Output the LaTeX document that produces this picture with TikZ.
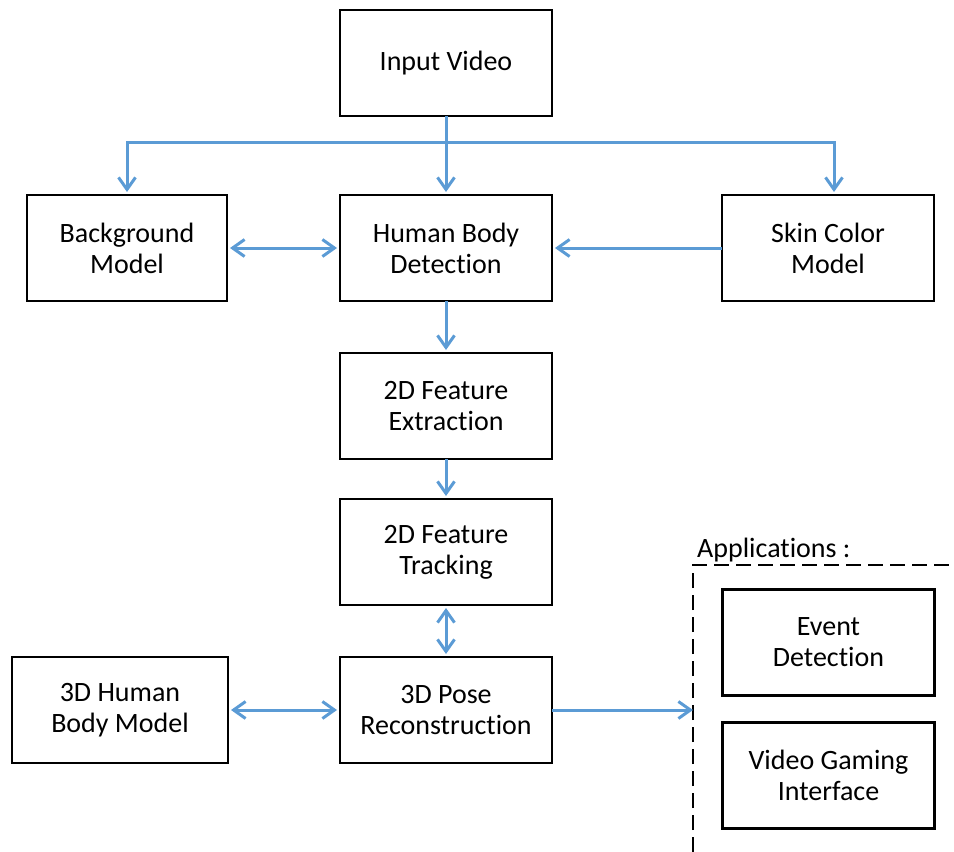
\documentclass[tikz,border=0pt]{standalone}
\usepackage{fontspec}
\setmainfont[Ligatures=NoCommon]{Carlito}
\usetikzlibrary{arrows.meta, positioning, calc}
\definecolor{link}{HTML}{5B9BD5}
\tikzset{
  box/.style={draw=black, line width=2.2pt, align=center, minimum width=212pt, minimum height=106pt, inner sep=2pt, outer sep=0pt, font=\fontsize{28}{31}\selectfont},
  a/.style={-{Straight Barb[length=12pt, width=17pt]}, draw=link, line width=3pt, shorten >=3pt},
  ab/.style={a, {Straight Barb[length=12pt, width=17pt]}-{Straight Barb[length=12pt, width=17pt]}, shorten <=3pt},
  grp/.style={draw=black, line width=2pt, dash pattern=on 15pt off 7pt},
}
\begin{document}
\begin{tikzpicture}[x=1pt, y=-1pt]
\useasboundingbox (0,0) rectangle (954,852);
\node[box] (inp) at (446,63) {Input Video};
\node[box, below=79pt of inp] (hbd) {Human Body\\Detection};
\node[box, left=113pt of hbd, minimum width=200pt] (bg) {Background\\Model};
\node[box, right=170pt of hbd] (skin) {Skin Color\\Model};
\node[box, below=52pt of hbd] (fex) {2D Feature\\Extraction};
\node[box, below=40pt of fex] (ftr) {2D Feature\\Tracking};
\node[box, below=52pt of ftr] (pose) {3D Pose\\Reconstruction};
\node[box, left=112pt of pose, minimum width=216pt] (hbm) {3D Human\\Body Model};
\node[box] (ev) at (828.5,642.5) {Event\\Detection};
\node[box, below=27pt of ev] (vgi) {Video Gaming\\Interface};

% applications group
\coordinate (grpbot) at (693,852);
\coordinate (grptl) at (693,565);
\coordinate (grptr) at (954,565);
\draw[grp] (grpbot) -- (grptl) -- (grptr);
\node[anchor=base west, inner sep=0pt, font=\fontsize{28}{31}\selectfont] (applbl) at (697,557) {Applications :};
\coordinate (appin) at (pose.east -| grptl);

\coordinate (split) at ($(inp.south)+(0,26)$);
\draw[a] (inp) -- (hbd);
\draw[a] (split) -| (bg.north);
\draw[a] (split) -| ($(skin.north)+(6,0)$);
\draw[ab] (bg) -- (hbd);
\draw[a] (skin) -- (hbd);
\draw[a] (hbd) -- (fex);
\draw[a] (fex) -- (ftr);
\draw[ab] (ftr) -- (pose);
\draw[ab] (hbm) -- (pose);
\draw[a, shorten >=0pt] (pose) -- (appin);
\end{tikzpicture}
\end{document}
